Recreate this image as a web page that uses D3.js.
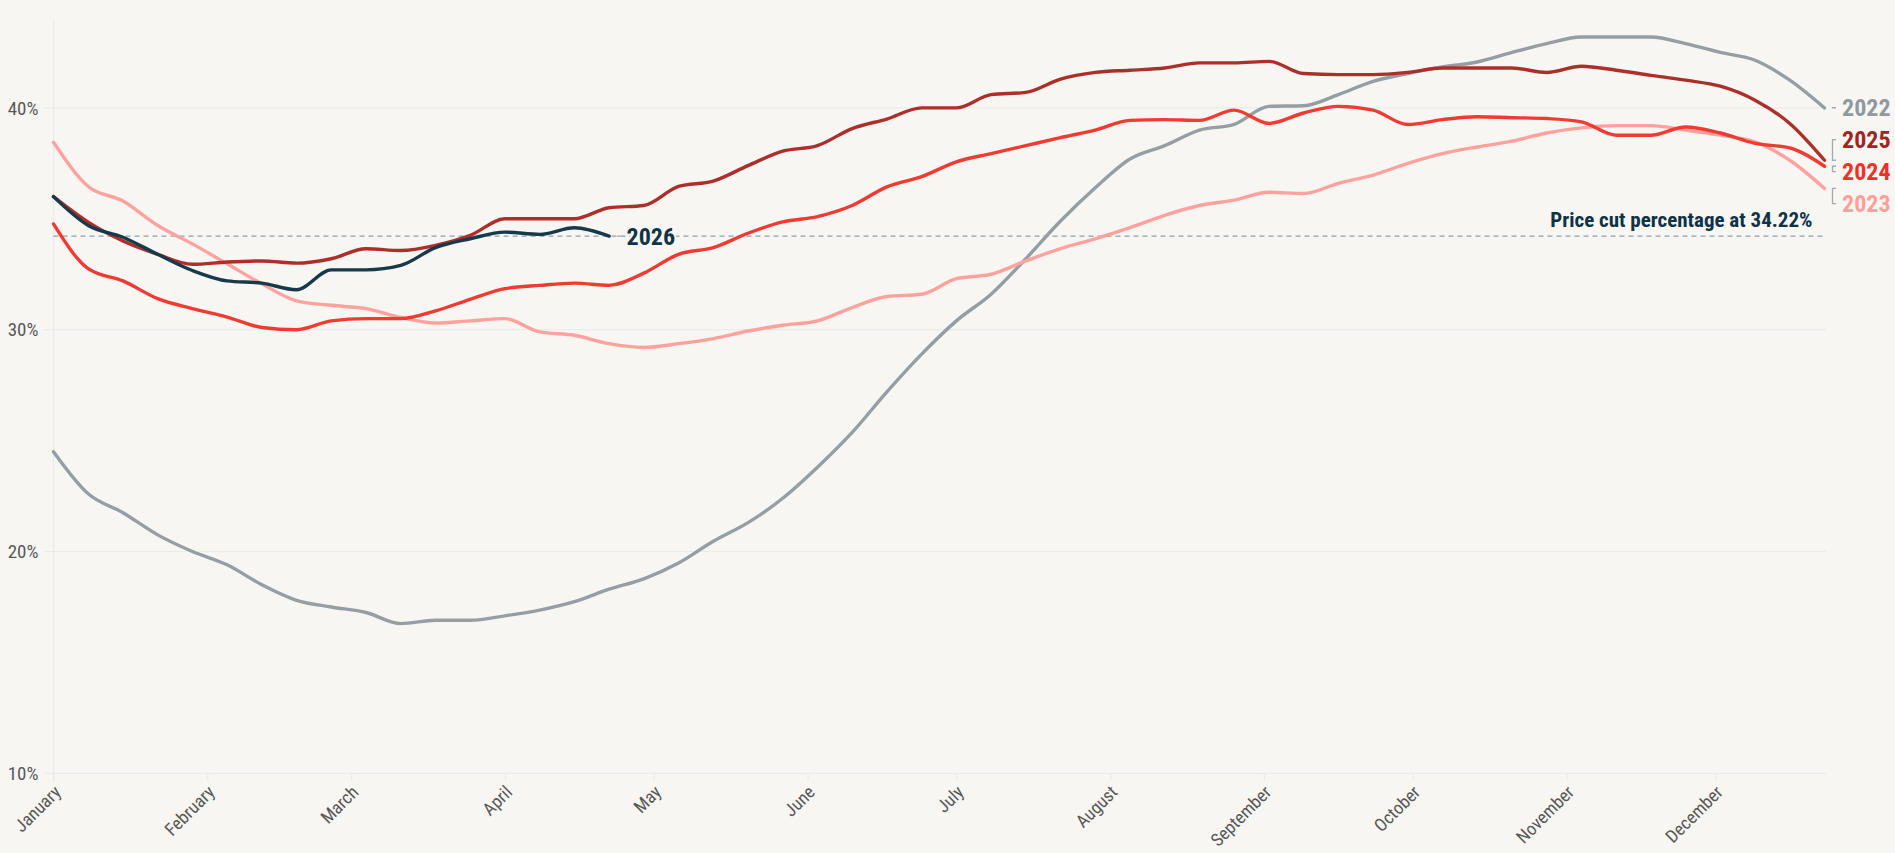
<!DOCTYPE html>
<html><head><meta charset="utf-8">
<script src="https://cdn.jsdelivr.net/npm/d3@7"></script>
<style>
html,body{margin:0;padding:0;background:#f8f6f3;overflow:hidden;}
svg{display:block;}
text{font-family:"Roboto Condensed","Roboto",sans-serif;font-stretch:75%;}
</style></head><body>
<svg id="chart" width="1895" height="853"></svg>
<script>
// ---- data ----
const weekDates = ["2024-01-01","2024-01-08","2024-01-15","2024-01-22","2024-01-29","2024-02-05","2024-02-12","2024-02-19","2024-02-26","2024-03-04","2024-03-11","2024-03-18","2024-03-25","2024-04-01","2024-04-08","2024-04-15","2024-04-22","2024-04-29","2024-05-06","2024-05-13","2024-05-20","2024-05-27","2024-06-03","2024-06-10","2024-06-17","2024-06-24","2024-07-01","2024-07-08","2024-07-15","2024-07-22","2024-07-29","2024-08-05","2024-08-12","2024-08-19","2024-08-26","2024-09-02","2024-09-09","2024-09-16","2024-09-23","2024-09-30","2024-10-07","2024-10-14","2024-10-21","2024-10-28","2024-11-04","2024-11-11","2024-11-18","2024-11-25","2024-12-02","2024-12-09","2024-12-16","2024-12-23"];

const values2022 = [24.5,22.6,21.75,20.75,20.0,19.4,18.5,17.8,17.5,17.25,16.75,16.9,16.9,17.1,17.36,17.74,18.3,18.77,19.48,20.46,21.3,22.4,23.8,25.37,27.2,28.9,30.4,31.6,33.2,34.9,36.4,37.7,38.3,39.0,39.26,40.07,40.1,40.6,41.2,41.55,41.85,42.07,42.5,42.9,43.2,43.2,43.2,42.9,42.5,42.15,41.25,40.0];
const values2023 = [38.45,36.46,35.8,34.7,33.87,32.97,32.07,31.3,31.1,30.95,30.55,30.3,30.4,30.5,29.9,29.75,29.37,29.2,29.37,29.6,29.94,30.2,30.4,31.0,31.5,31.6,32.3,32.5,33.1,33.66,34.1,34.6,35.16,35.6,35.84,36.2,36.14,36.6,36.97,37.5,37.94,38.24,38.5,38.87,39.1,39.2,39.2,39.0,38.77,38.47,37.64,36.37];
const values2024 = [34.77,32.75,32.2,31.4,30.95,30.57,30.1,30.0,30.4,30.5,30.5,30.85,31.37,31.85,32.0,32.1,32.0,32.55,33.4,33.7,34.35,34.86,35.1,35.6,36.44,36.9,37.57,37.94,38.3,38.66,39.0,39.44,39.47,39.44,39.9,39.3,39.77,40.07,39.9,39.25,39.47,39.6,39.56,39.52,39.37,38.77,38.77,39.14,38.87,38.4,38.2,37.37];
const values2025 = [36.0,34.85,34.0,33.4,32.95,33.05,33.1,33.0,33.2,33.65,33.57,33.8,34.25,35.0,35.0,35.0,35.5,35.6,36.46,36.7,37.4,38.05,38.3,39.07,39.5,40.0,40.0,40.6,40.7,41.3,41.6,41.7,41.8,42.03,42.03,42.1,41.55,41.5,41.5,41.6,41.8,41.8,41.8,41.6,41.88,41.7,41.47,41.25,40.98,40.35,39.3,37.64];
const values2026 = [36.0,34.7,34.17,33.4,32.67,32.2,32.1,31.8,32.7,32.7,32.9,33.7,34.1,34.4,34.3,34.6,34.22];

const seriesNames = ["2022","2023","2024","2025","2026"];
const seriesValues = [values2022, values2023, values2024, values2025, values2026];
const lineColors = ["#959ea4","#ffa29e","#ef3b32","#ad2f2a","#173a4b"];
const labelColors = ["#8f999f","#ff9f9a","#ee3129","#a3241f","#0f3447"];

const monthDates = ["2024-01-01","2024-02-01","2024-03-01","2024-04-01","2024-05-01","2024-06-01","2024-07-01","2024-08-01","2024-09-01","2024-10-01","2024-11-01","2024-12-01"];
const monthLabels = ["January","February","March","April","May","June","July","August","September","October","November","December"];
const yTicks = [10, 20, 30, 40];
const yTickLabels = ["10%","20%","30%","40%"];
const refValue = 34.22;
const refLabel = "Price cut percentage at 34.22%";

// ---- layout ----
const svg = d3.select("#chart");
svg.append("rect").attr("width",1895).attr("height",853).attr("fill","#f8f6f3");
const parse = d3.utcParse("%Y-%m-%d");
const dates = weekDates.map(parse);
const x = d3.scaleUtc().domain([dates[0], dates[dates.length-1]]).range([53.5, 1824.5]);
const y = d3.scaleLinear().domain([10, 44]).range([773.3, 19.2]);

const gridColor = "#ebebeb";
// gridlines
svg.append("g").selectAll("line").data(yTicks).join("line")
  .attr("x1", 44).attr("x2", 1826)
  .attr("y1", d => y(d)).attr("y2", d => y(d))
  .attr("stroke", gridColor).attr("stroke-width", 1.2);
// y axis line
svg.append("line").attr("x1",53.5).attr("x2",53.5).attr("y1",y(44)).attr("y2",y(10)+8)
  .attr("stroke",gridColor).attr("stroke-width",1.2);

// y axis labels
const yAxis = d3.axisLeft(y).tickValues(yTicks).tickFormat((d,i)=>yTickLabels[i]).tickSize(0).tickPadding(15);
const gy = svg.append("g").attr("transform","translate(53.5,0)").call(yAxis);
gy.select(".domain").remove();
gy.selectAll("text").attr("fill","#585858").style("font-size","19px");

// x axis
const xAxis = d3.axisBottom(x).tickValues(monthDates.map(parse)).tickFormat((d,i)=>monthLabels[i]).tickSize(8).tickPadding(0);
const gx = svg.append("g").attr("transform",`translate(0,${y(10)})`).call(xAxis);
gx.select(".domain").remove();
gx.selectAll("line").attr("stroke",gridColor).attr("stroke-width",1.2);
gx.selectAll("text").attr("fill","#585858").style("font-size","18px")
  .attr("text-anchor","end").attr("dy",null).attr("y",null)
  .attr("transform","translate(8,20) rotate(-45)");

// reference line
svg.append("line").attr("x1",53.5).attr("x2",1824.5).attr("y1",y(refValue)).attr("y2",y(refValue))
  .attr("stroke","#8fa0aa").attr("stroke-width",1.4).attr("stroke-dasharray","5,4");

// lines
const line = d3.line().x((d,i)=>x(dates[i])).y(d=>y(d)).curve(d3.curveMonotoneX);
svg.append("g").selectAll("path").data(seriesValues).join("path")
  .attr("d", d => line(d)).attr("fill","none")
  .attr("stroke",(d,i)=>lineColors[i]).attr("stroke-width",3.4)
  .attr("stroke-linejoin","round").attr("stroke-linecap","round");

// reference label
svg.append("text").attr("x",1812.5).attr("y",y(refValue)-9.5).attr("text-anchor","end")
  .attr("fill","#0e3246").style("font-size","21px").style("font-weight","700").text(refLabel);

// end labels with simple collision handling
const ends = seriesValues.map((v,i)=>({name:seriesNames[i], i, xe:x(dates[v.length-1]), ye:y(v[v.length-1])}));
const rightEnds = ends.filter(e => Math.abs(e.xe - 1824.5) < 1).sort((a,b)=>a.ye-b.ye);
const gap = 32;
let clusters = rightEnds.map(e=>[e]);
let merged = true;
function place(c){ const m = d3.mean(c, e=>e.ye); c.forEach((e,k)=>{ e.yl = m + (k - (c.length-1)/2)*gap; }); }
while(merged){
  merged = false;
  clusters.forEach(place);
  for(let k=0;k<clusters.length-1;k++){
    const a = clusters[k], b = clusters[k+1];
    if(b[0].yl - a[a.length-1].yl < gap){ clusters.splice(k,2,a.concat(b)); merged = true; break; }
  }
}
clusters.forEach(place);
ends.forEach(e => { if(e.yl === undefined) e.yl = e.ye; });

const lg = svg.append("g");
ends.forEach(e => {
  const x0 = e.xe + 8, x1 = e.xe + 11.5;
  lg.append("path").attr("d", `M${x1},${e.ye}H${x0}V${e.yl}H${x1}`)
    .attr("fill","none").attr("stroke","#a4a9ad").attr("stroke-width",1.3);
  lg.append("text").attr("x", e.xe + 17.5).attr("y", e.yl).attr("dy","0.36em")
    .attr("fill", labelColors[e.i]).style("font-size","24px").style("font-weight","700")
    .attr("stroke","#f8f6f3").attr("stroke-width",4).attr("paint-order","stroke")
    .text(e.name);
});
</script>
</body></html>
